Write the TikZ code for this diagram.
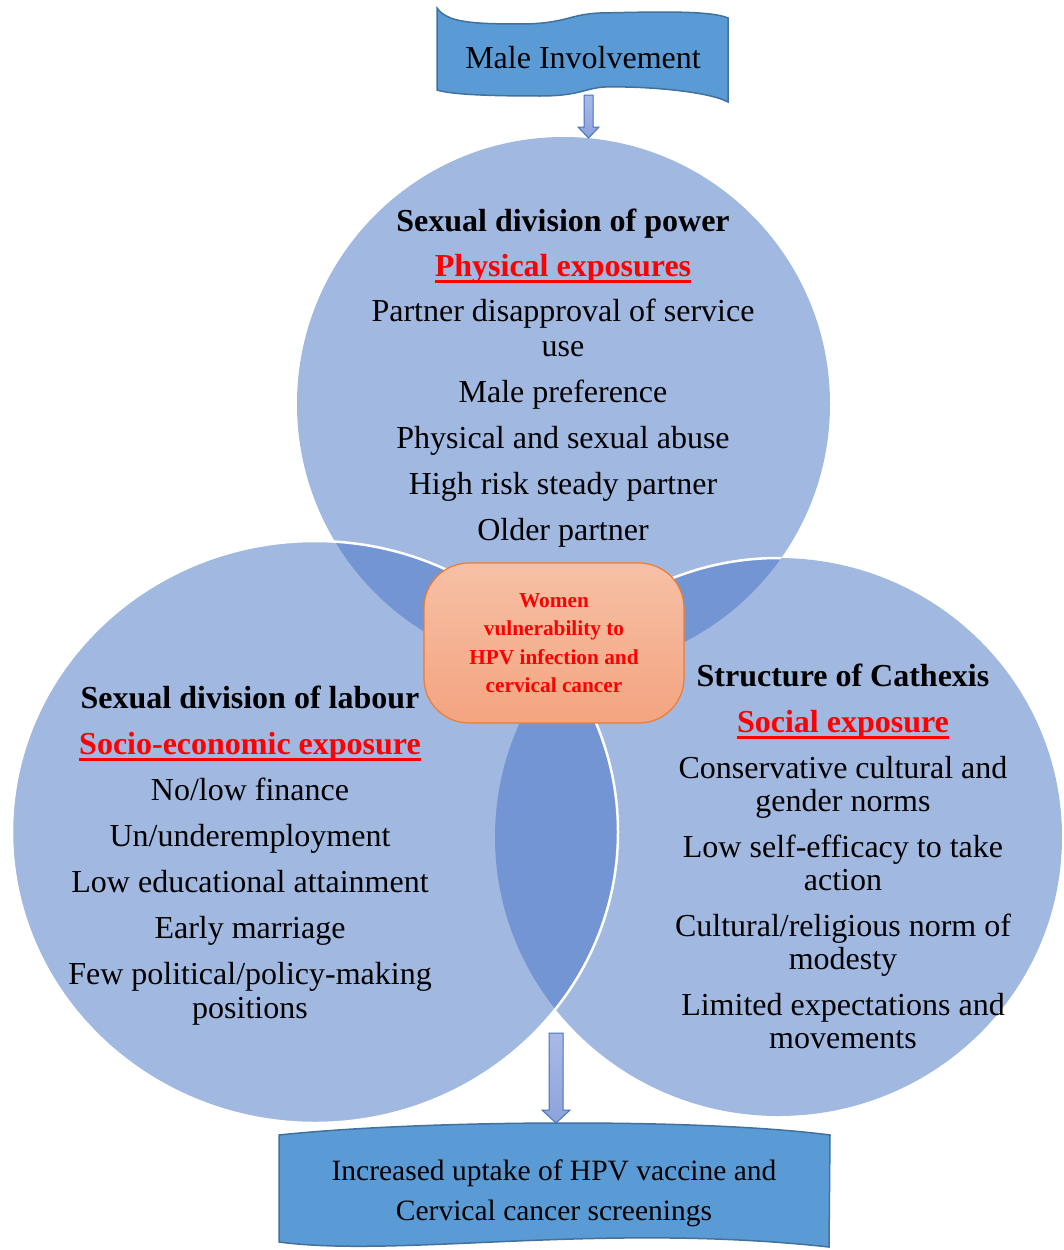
\documentclass[tikz,border=0pt]{standalone}
\usepackage{fontspec}
\setmainfont{Liberation Serif}
\definecolor{vlight}{RGB}{161,184,225}
\definecolor{vdark}{RGB}{115,149,211}
\definecolor{bann}{RGB}{91,155,213}
\definecolor{bannline}{RGB}{65,113,156}
\definecolor{arrtop}{RGB}{170,186,230}
\definecolor{arrbot}{RGB}{140,163,218}
\definecolor{arrline}{RGB}{68,114,196}
\definecolor{boxtop}{RGB}{246,192,166}
\definecolor{boxbot}{RGB}{244,164,128}
\definecolor{boxline}{RGB}{237,125,49}
\tikzset{
  toppath/.style={insert path={(563.5,404) ellipse [x radius=266.5, y radius=267]}},
  rightpath/.style={insert path={(778.5,837) ellipse [x radius=283.5, y radius=279]}},
  leftpath/.style={insert path={(315,832) ellipse [x radius=303, y radius=291]}},
  body/.style={font=\fontsize{32}{36}\selectfont, anchor=base, inner sep=0pt},
  head/.style={body, font=\fontsize{32}{36}\selectfont\bfseries},
  expo/.style={head, text=red},
  uline/.style={red, line width=3pt},
  banner/.style={fill=bann, draw=bannline, line width=1.5pt},
  blockarrow/.style={top color=arrtop, bottom color=arrbot, draw=arrline, line width=1pt},
  edge/.style={white, line width=2.5pt},
}
\begin{document}
\begin{tikzpicture}[x=1pt,y=-1pt]
\useasboundingbox (0,0) rectangle (1063,1250);
% circles
\fill[vlight, toppath];
\fill[vlight, rightpath];
\fill[vlight, leftpath];
\begin{scope}
  \clip[toppath];
  \fill[vdark, leftpath];
  \fill[vdark, rightpath];
\end{scope}
\begin{scope}
  \clip[leftpath];
  \fill[vdark, rightpath];
\end{scope}
\begin{scope}
  \clip[toppath];
  \draw[edge, rightpath];
\end{scope}
\draw[edge, leftpath];
% top banner
\draw[banner] (437,8) .. controls (447,22) and (470,24) .. (520,24)
  .. controls (565,24) and (570,14) .. (600,13)
  .. controls (650,12) and (710,10) .. (728,18)
  -- (728,102) .. controls (710,92) and (650,86) .. (605,87)
  .. controls (585,88) and (580,96) .. (540,96)
  .. controls (480,96) and (450,94) .. (437,90) -- cycle;
\node[body, font=\fontsize{32}{36}\selectfont] (male) at (583,68) {Male Involvement};
% top arrow
\draw[blockarrow] (584,95) -- (593,95) -- (593,127) -- (599,127) -- (588.5,138) -- (578,127) -- (584,127) -- cycle;
% bottom banner
\draw[banner] (279,1135) .. controls (420,1120) and (700,1118) .. (830,1135)
  -- (829,1247) .. controls (600,1222) and (400,1258) .. (279,1242) -- cycle;
\node[body, font=\fontsize{29.5}{40}\selectfont] (out1) at (554,1180) {Increased uptake of HPV vaccine and};
\node[body, font=\fontsize{29.5}{40}\selectfont] (out2) at (554,1220) {Cervical cancer screenings};
% bottom arrow
\draw[blockarrow] (549,1033) -- (563,1033) -- (563,1110) -- (570,1110) -- (556,1123) -- (542,1110) -- (549,1110) -- cycle;
% centre box
\node[rounded corners=45pt, top color=boxtop, bottom color=boxbot, draw=boxline, line width=1.2pt,
      minimum width=260pt, minimum height=160pt, align=center, text=red,
      font=\fontsize{21.3}{28.5}\selectfont\bfseries] (core) at (554,643)
  {Women\\vulnerability to\\HPV infection and\\cervical cancer};
% top circle text
\node[head] (p1) at (563,231) {Sexual division of power};
\node[expo] (p2) at (563,276) {Physical exposures};
\node[body] (p3) at (563,321) {Partner disapproval of service};
\node[body] (p4) at (563,356) {use};
\node[body] (p5) at (563,402) {Male preference};
\node[body] (p6) at (563,448) {Physical and sexual abuse};
\node[body] (p7) at (563,494) {High risk steady partner};
\node[body] (p8) at (563,540) {Older partner};
% left circle text
\node[head] (l1) at (250,708) {Sexual division of labour};
\node[expo] (l2) at (250,754) {Socio-economic exposure};
\node[body] (l3) at (250,800) {No/low finance};
\node[body] (l4) at (250,846) {Un/underemployment};
\node[body] (l5) at (250,892) {Low educational attainment};
\node[body] (l6) at (250,938) {Early marriage};
\node[body] (l7) at (250,984) {Few political/policy-making};
\node[body] (l8) at (250,1018) {positions};
% right circle text
\node[head] (r1) at (843,686) {Structure of Cathexis};
\node[expo] (r2) at (843,732) {Social exposure};
\node[body] (r3) at (843,778) {Conservative cultural and};
\node[body] (r4) at (843,811) {gender norms};
\node[body] (r5) at (843,857) {Low self-efficacy to take};
\node[body] (r6) at (843,890) {action};
\node[body] (r7) at (843,936) {Cultural/religious norm of};
\node[body] (r8) at (843,969) {modesty};
\node[body] (r9) at (843,1015) {Limited expectations and};
\node[body] (r10) at (843,1048) {movements};
% underlines
\draw[uline] ([yshift=-5pt]p2.base west) -- ([yshift=-5pt]p2.base east);
\draw[uline] ([yshift=-5pt]l2.base west) -- ([yshift=-5pt]l2.base east);
\draw[uline] ([yshift=-5pt]r2.base west) -- ([yshift=-5pt]r2.base east);
\end{tikzpicture}
\end{document}
